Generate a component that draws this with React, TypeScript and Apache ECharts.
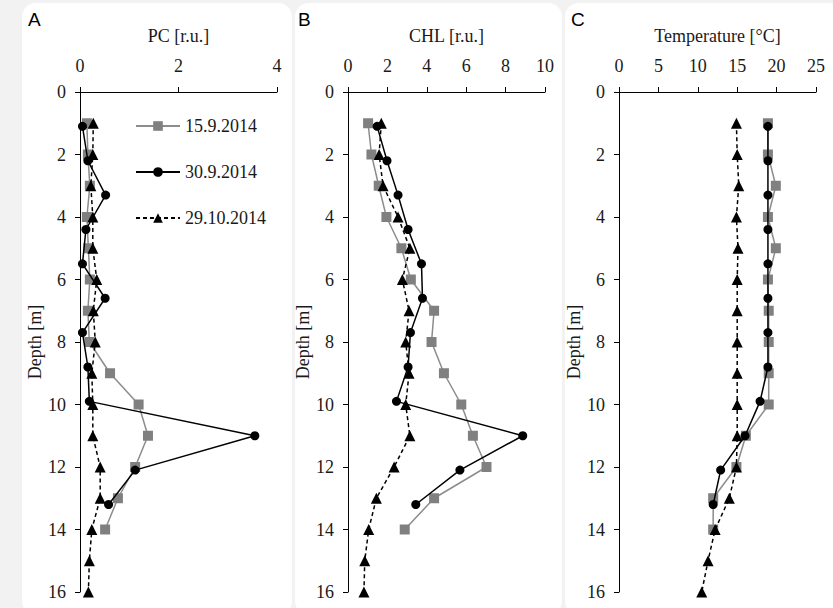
import React, { useEffect, useRef } from "react";
import * as echarts from "echarts";

const seriesNames = ["15.9.2014", "30.9.2014", "29.10.2014"];
const depth15 = [1, 2, 3, 4, 5, 6, 7, 8, 9, 10, 11, 12, 13, 14];
const depth30 = [1.1, 2.2, 3.3, 4.4, 5.5, 6.6, 7.7, 8.8, 9.9, 11, 12.1, 13.2];
const depth29 = [1, 2, 3, 4, 5, 6, 7, 8, 9, 10, 11, 12, 13, 14, 15, 16];

const pc15 = [0.14, 0.16, 0.2, 0.14, 0.17, 0.2, 0.16, 0.19, 0.61, 1.19, 1.38, 1.12, 0.77, 0.51];
const pc30 = [0.05, 0.16, 0.52, 0.12, 0.05, 0.51, 0.05, 0.16, 0.19, 3.55, 1.12, 0.58];
const pc29 = [0.27, 0.26, 0.22, 0.26, 0.26, 0.34, 0.27, 0.31, 0.24, 0.26, 0.26, 0.41, 0.41, 0.24, 0.19, 0.17];

const chl15 = [1.02, 1.19, 1.56, 1.95, 2.71, 3.19, 4.37, 4.24, 4.87, 5.75, 6.34, 7.03, 4.37, 2.88];
const chl30 = [1.48, 1.98, 2.54, 3.05, 3.73, 3.78, 3.17, 3.05, 2.46, 8.87, 5.68, 3.44];
const chl29 = [1.69, 1.58, 1.78, 2.54, 3.14, 2.76, 3.1, 2.93, 3.1, 2.93, 3.14, 2.34, 1.44, 1.05, 0.85, 0.81];

const temp15 = [18.9, 18.9, 19.9, 18.9, 19.9, 18.9, 19, 19, 19, 19, 16.1, 14.9, 11.95, 11.95];
const temp30 = [18.9, 18.9, 18.9, 18.9, 18.9, 18.9, 18.9, 18.9, 17.9, 16.0, 12.9, 11.95];
const temp29 = [14.9, 15, 15.2, 14.9, 15.1, 15, 15, 15, 15, 15, 15, 14.9, 14, 12.2, 11.3, 10.5];

const panels = [
  { letter: "A", title: "PC [r.u.]", max: 4, interval: 2, v15: pc15, v30: pc30, v29: pc29 },
  { letter: "B", title: "CHL [r.u.]", max: 10, interval: 2, v15: chl15, v30: chl30, v29: chl29 },
  { letter: "C", title: "Temperature [°C]", max: 25, interval: 5, v15: temp15, v30: temp30, v29: temp29 },
];

const gridLefts = [80, 348, 619];
const gridWidth = 197;
const serif = "'Liberation Serif', 'Times New Roman', serif";
const textColor = "#1a1a1a";

export default function App() {
  const ref = useRef<HTMLDivElement>(null);
  useEffect(() => {
    if (!ref.current) return;
    const chart = echarts.init(ref.current, undefined, { renderer: "svg" });
    const pair = (xs: number[], ys: number[]) => xs.map((v, i) => [v, ys[i]]);
    const grids: any[] = [];
    const xAxes: any[] = [];
    const yAxes: any[] = [];
    const series: any[] = [];
    panels.forEach((p, i) => {
      grids.push({ left: gridLefts[i], top: 92, width: gridWidth, height: 500 });
      xAxes.push({
        type: "value",
        gridIndex: i,
        position: "top",
        min: 0,
        max: p.max,
        interval: p.interval,
        name: p.title,
        nameLocation: "middle",
        nameGap: 47,
        nameTextStyle: { fontFamily: serif, fontSize: 18, color: textColor },
        axisLine: { show: true, lineStyle: { color: "#000", width: 1 } },
        axisTick: { show: true, length: 5, lineStyle: { color: "#000" } },
        axisLabel: { fontFamily: serif, fontSize: 18, color: textColor, margin: 17 },
        splitLine: { show: false },
      });
      yAxes.push({
        type: "value",
        gridIndex: i,
        inverse: true,
        min: 0,
        max: 16,
        interval: 2,
        name: "Depth [m]",
        nameLocation: "middle",
        nameGap: 36,
        nameRotate: 90,
        nameTextStyle: { fontFamily: serif, fontSize: 18, color: textColor },
        axisLine: { show: true, lineStyle: { color: "#000", width: 1 } },
        axisTick: { show: true, length: 5, lineStyle: { color: "#000" } },
        axisLabel: { fontFamily: serif, fontSize: 18, color: textColor, margin: 14 },
        splitLine: { show: false },
      });
      series.push(
        {
          name: seriesNames[0],
          type: "line",
          xAxisIndex: i,
          yAxisIndex: i,
          data: pair(p.v15, depth15),
          symbol: "rect",
          symbolSize: 10,
          itemStyle: { color: "#808080" },
          lineStyle: { color: "#8c8c8c", width: 1.5 },
          z: 2,
        },
        {
          name: seriesNames[1],
          type: "line",
          xAxisIndex: i,
          yAxisIndex: i,
          data: pair(p.v30, depth30),
          symbol: "circle",
          symbolSize: 9,
          itemStyle: { color: "#000" },
          lineStyle: { color: "#000", width: 1.5 },
          z: 3,
        },
        {
          name: seriesNames[2],
          type: "line",
          xAxisIndex: i,
          yAxisIndex: i,
          data: pair(p.v29, depth29),
          symbol: "triangle",
          symbolSize: 11,
          itemStyle: { color: "#000" },
          lineStyle: { color: "#000", width: 1.5, type: [4, 3] },
          z: 4,
        }
      );
    });

    const panelRects = [
      { x: 22, w: 270 },
      { x: 295, w: 267 },
      { x: 565, w: 280 },
    ];
    const graphics: any[] = [
      { type: "rect", left: 0, top: 0, shape: { width: 833, height: 608 }, style: { fill: "#f2f2f2" }, z: -10, silent: true },
    ];
    panelRects.forEach((r, i) => {
      graphics.push({
        type: "rect",
        x: r.x,
        y: 3,
        shape: { width: r.w, height: 612, r: 14 },
        style: { fill: "#ffffff" },
        z: -9,
        silent: true,
      });
      graphics.push({
        type: "text",
        x: [28, 298, 571][i],
        y: 10,
        style: {
          text: panels[i].letter,
          fontSize: 19,
          fontFamily: "'Liberation Sans', sans-serif",
          fill: "#000",
        },
        z: 10,
      });
    });

    chart.setOption({
      animation: false,
      backgroundColor: "#f2f2f2",
      graphic: graphics,
      legend: {
        orient: "vertical",
        left: 130,
        top: 112,
        itemGap: 28,
        itemWidth: 44,
        itemHeight: 12,
        data: seriesNames,
        textStyle: { fontFamily: serif, fontSize: 18, color: textColor },
      },
      grid: grids,
      xAxis: xAxes,
      yAxis: yAxes,
      series,
    });
    return () => chart.dispose();
  }, []);
  return (
    <div
      ref={ref}
      style={{ position: "fixed", left: 0, top: 0, width: 833, height: 608 }}
    />
  );
}
